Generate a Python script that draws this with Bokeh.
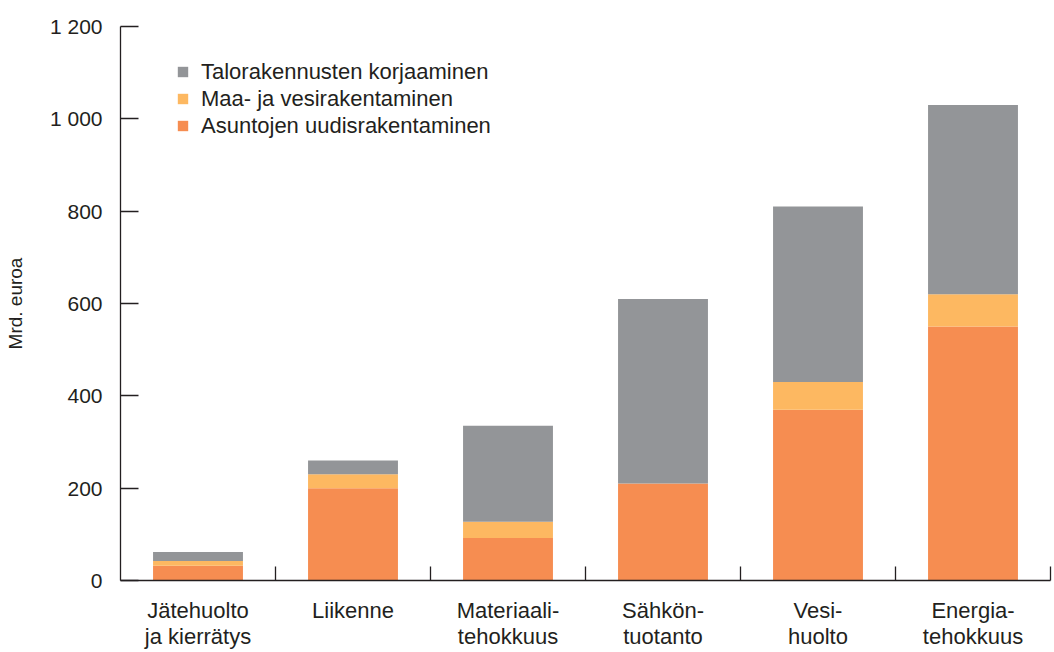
from bokeh.plotting import figure
from bokeh.models import FixedTicker, Range1d, Legend, LegendItem, ColumnDataSource
from bokeh.embed import file_html
from bokeh.resources import INLINE

categories = ["Jätehuolto\nja kierrätys", "Liikenne", "Materiaali-\ntehokkuus",
              "Sähkön-\ntuotanto", "Vesi-\nhuolto", "Energia-\ntehokkuus"]
asuntojen = [32, 200, 92, 210, 370, 550]
maa_vesi = [10, 30, 35, 0, 60, 70]
talo = [20, 30, 208, 400, 380, 410]
series_names = ["Asuntojen uudisrakentaminen", "Maa- ja vesirakentaminen",
                "Talorakennusten korjaaminen"]
colors = ["#F68D51", "#FDB861", "#939598"]
y_ticks = [0, 200, 400, 600, 800, 1000, 1200]
y_tick_labels = ["0", "200", "400", "600", "800", "1 000", "1 200"]

FONT = "Liberation Sans"
TXT = "#231f20"

n = len(categories)
xs = [i + 0.5 for i in range(n)]
source = ColumnDataSource(dict(x=xs, a=asuntojen, m=maa_vesi, t=talo))

p = figure(width=1052, height=651, output_backend="svg", toolbar_location=None,
           x_range=Range1d(0, n), y_range=Range1d(0, 1200),
           min_border_left=120, min_border_right=2, min_border_top=26,
           min_border_bottom=71)
p.outline_line_color = None
p.grid.visible = False
p.background_fill_color = "white"

rs = p.vbar_stack(["a", "m", "t"], x="x", width=0.58, source=source,
                  color=colors, line_color=None)

# X axis
xa = p.xaxis[0]
xa.ticker = FixedTicker(ticks=xs, minor_ticks=list(range(1, n + 1)))
xa.major_label_overrides = {x: c for x, c in zip(xs, categories)}
xa.major_tick_in = 0
xa.major_tick_out = 0
xa.minor_tick_in = 14
xa.minor_tick_out = 0
xa.minor_tick_line_color = TXT
xa.minor_tick_line_width = 1.3
xa.axis_line_color = TXT
xa.axis_line_width = 1.3
xa.major_label_standoff = 17
xa.major_label_text_font = FONT
xa.major_label_text_font_size = "22px"
xa.major_label_text_color = TXT
xa.major_label_text_line_height = 1.05

# Y axis
ya = p.yaxis[0]
ya.ticker = FixedTicker(ticks=y_ticks, minor_ticks=[])
ya.major_label_overrides = {v: l for v, l in zip(y_ticks, y_tick_labels)}
ya.major_tick_in = 18
ya.major_tick_out = 0
ya.major_tick_line_color = TXT
ya.major_tick_line_width = 1.3
ya.axis_line_color = TXT
ya.axis_line_width = 1.3
ya.major_label_standoff = 18
ya.major_label_text_font = FONT
ya.major_label_text_font_size = "21px"
ya.major_label_text_color = TXT
ya.axis_label = "Mrd. euroa"
ya.axis_label_text_font = FONT
ya.axis_label_text_font_size = "19px"
ya.axis_label_text_font_style = "normal"
ya.axis_label_text_color = TXT
ya.axis_label_standoff = 21

items = [LegendItem(label=series_names[i], renderers=[rs[i]]) for i in (2, 1, 0)]
legend = Legend(items=items, location=(56, 441), orientation="vertical",
                glyph_width=13, glyph_height=13, label_height=27, spacing=0,
                padding=0, margin=0, label_standoff=12,
                label_text_font=FONT, label_text_font_size="22px",
                label_text_color=TXT, border_line_color=None,
                background_fill_alpha=0)
p.add_layout(legend, "center")

open("out.html", "w").write(file_html(p, INLINE))
